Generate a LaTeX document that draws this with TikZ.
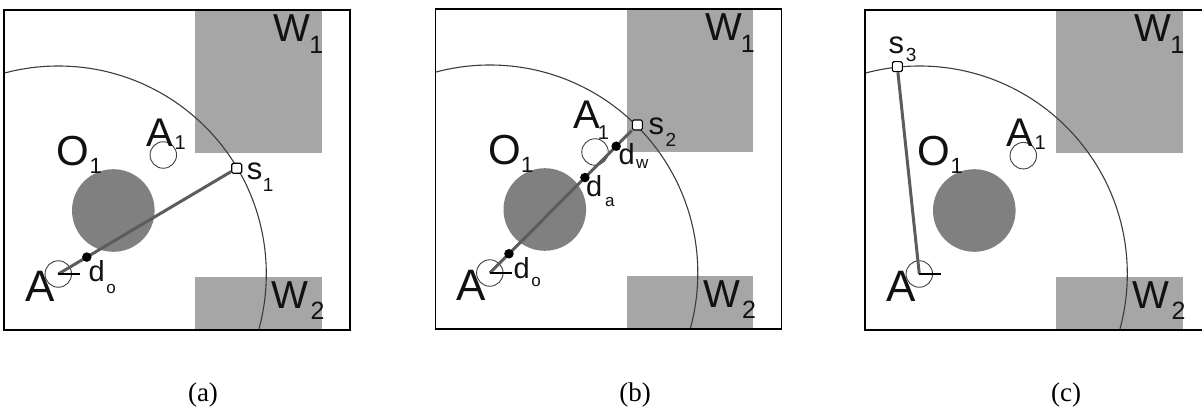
\documentclass[tikz,border=0pt]{standalone}
\usepackage{fontspec}
\setmainfont{Liberation Sans}
\newfontfamily\capfont{Liberation Serif}
\definecolor{wallgray}{HTML}{A6A6A6}
\definecolor{obstgray}{HTML}{808080}
\definecolor{arcgray}{HTML}{3C3C3C}
\definecolor{raygray}{HTML}{5C5C5C}
\definecolor{circgray}{HTML}{404040}
\definecolor{txt}{HTML}{111111}
\newcommand\fsz[1]{\fontsize{#1pt}{#1pt}\selectfont}
\newcommand\lsub[4]{\kern#3pt\raisebox{-#2pt}{\fsz{#1}#4}}
\tikzset{
  frame/.style={draw=black, line width=1.6pt},
  wall/.style={fill=wallgray, draw=none},
  obst/.style={circle, fill=obstgray, draw=none, minimum size=82.6pt, inner sep=0pt},
  rangearc/.style={draw=arcgray, line width=1.1pt},
  ray/.style={draw=raygray, line width=3pt},
  agent/.style={circle, draw=circgray, line width=0.9pt, minimum size=26.5pt, inner sep=0pt},
  sensor/.style={rectangle, rounded corners=1.5pt, draw=black, fill=white, line width=1.1pt, minimum size=10pt, inner sep=0pt},
  hit/.style={circle, fill=black, minimum size=9.5pt, inner sep=0pt},
  tickmark/.style={draw=black, line width=1.8pt},
  lab/.style={anchor=base west, inner sep=0pt, text=txt},
  caption/.style={anchor=base, inner sep=0pt, font=\capfont\fsz{27}},
}
\newcommand\panelcommon[1]{%
  \fill[wall] (191,0) rectangle (317.7,142.7);
  \fill[wall] (191,266.7) rectangle (317.7,320);
  \node[obst] (#1O) at (109.3,200.5) {};
  \node[agent] (#1A) at (54.3,264) {};
  \coordinate (#1tick) at (76.3,264);
  \begin{scope}
    \clip (0,0) rectangle (346,320);
    \draw[rangearc] (#1A.center) circle[radius=208pt];
  \end{scope}
  \draw[frame] (0,0) rectangle (346,320);
  \node[lab, font=\fsz{44}] (#1Alab) at (21,291.7) {A};
  \node[lab, font=\fsz{42}] (#1Olab) at (52.7,155.5) {O\lsub{22}{7.8}{0}{1}};
  \node[lab, font=\fsz{39}] (#1Wonelab) at (269.3,31.7) {W\lsub{25}{11.6}{-1}{1}};
  \node[lab, font=\fsz{39}] (#1Wtwolab) at (267.7,298.3) {W\lsub{25}{11.7}{2}{2}};
}
\begin{document}
\begin{tikzpicture}[x=1pt, y=-1pt]
\clip (0,0) rectangle (1202,411);
% ---------- (a) ----------
\begin{scope}[shift={(4,10)}]
  \panelcommon{a}
  \node[agent] (aAone) at (159.3,145) {};
  \node[lab, font=\fsz{40}] (aAonelab) at (142.7,136.7) {A\lsub{20}{3.3}{1}{1}};
  \node[sensor] (aS) at (232.7,158.3) {};
  \draw[ray] (aA.center) -- (aS) node[hit, pos=0.165] (aD) {};
  \draw[tickmark] (aA.center) -- (atick);
  \node[lab, font=\fsz{31}] (aSlab) at (242.7,170) {s\lsub{19}{11.7}{0.5}{1}};
  \node[lab, font=\fsz{29}] (aDlab) at (84.3,271.7) {d\lsub{17}{11.6}{1.8}{o}};
\end{scope}
% ---------- (b) ----------
\begin{scope}[shift={(435.5,9)}]
  \panelcommon{b}
  \node[agent] (bAone) at (159.5,143) {};
  \node[lab, font=\fsz{40}] (bAonelab) at (137.5,120) {A\lsub{20}{11}{-2}{1}};
  \node[sensor] (bS) at (201.8,116) {};
  \draw[ray] (bA.center) -- (bS)
    node[hit, pos=0.135] (bDo) {}
    node[hit, pos=0.67] (bDa) {}
    node[hit, pos=0.89] (bDw) {};
  \draw[tickmark] (bA.center) -- (btick);
  \node[lab, font=\fsz{31}] (bSlab) at (212.8,126) {s\lsub{19}{11.7}{1.5}{2}};
  \node[lab, font=\fsz{29}] (bDwlab) at (182.8,156) {d\lsub{17}{3.3}{1.6}{w}};
  \node[lab, font=\fsz{29}] (bDalab) at (150.5,187.7) {d\lsub{17}{10}{2.8}{a}};
  \node[lab, font=\fsz{29}] (bDolab) at (77.8,269.3) {d\lsub{17}{8.4}{1.8}{o}};
\end{scope}
% ---------- (c) ----------
\begin{scope}[shift={(865,10)}]
  \panelcommon{c}
  \node[agent] (cAone) at (158.3,145.7) {};
  \node[lab, font=\fsz{40}] (cAonelab) at (141.7,136.7) {A\lsub{20}{3.3}{1}{1}};
  \node[sensor] (cS) at (32.3,56.7) {};
  \draw[ray] (cA.center) -- (cS);
  \draw[tickmark] (cA.center) -- (ctick);
  \node[lab, font=\fsz{31}] (cSlab) at (23.3,43.3) {s\lsub{19}{8.4}{1.9}{3}};
\end{scope}
% ---------- captions ----------
\node[caption] (capa) at (203,401.5) {(a)};
\node[caption] (capb) at (635,401.5) {(b)};
\node[caption] (capc) at (1066,401.5) {(c)};
\end{tikzpicture}
\end{document}
